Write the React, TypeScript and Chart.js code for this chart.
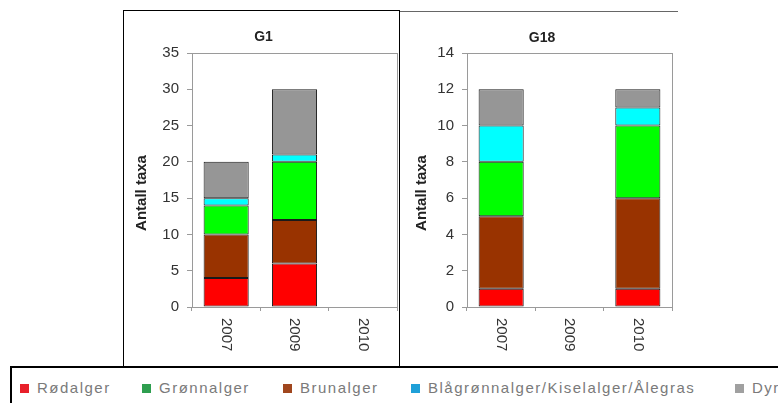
import React, { useEffect, useRef } from "react";
import { Chart, registerables } from "chart.js";

Chart.register(...registerables);

const years = ["2007", "2009", "2010"];

const g1Rodalger = [4, 6, 0];
const g1Brunalger = [6, 6, 0];
const g1Gronnalger = [4, 8, 0];
const g1Blagronn = [1, 1, 0];
const g1Dyr = [5, 9, 0];

const g18Rodalger = [1, 0, 1];
const g18Brunalger = [4, 0, 5];
const g18Gronnalger = [3, 0, 4];
const g18Blagronn = [2, 0, 1];
const g18Dyr = [2, 0, 1];

const seriesNames = ["Rødalger", "Brunalger", "Grønnalger", "Blågrønnalger/Kiselalger/Ålegras", "Dyr"];
const barColors = ["#FF0000", "#993300", "#00FF00", "#00FFFF", "#969696"];

const legendNames = ["Rødalger", "Grønnalger", "Brunalger", "Blågrønnalger/Kiselalger/Ålegras", "Dyr"];
const legendColors = ["#E8202A", "#2E9E4F", "#A0461E", "#1FA0D8", "#A0A0A0"];
const legendX = [20, 142, 283, 411, 735];

const FONT = "'Liberation Sans', Arial, sans-serif";

type PanelProps = {
  title: string;
  series: number[][];
  yMax: number;
  yStep: number;
  left: number;
  top: number;
  width: number;
  height: number;
  padTop: number;
  padRight: number;
  yWidth: number;
  xHeight: number;
  yTitleX: number;
  yTitleY: number;
};

function Panel(p: PanelProps) {
  const ref = useRef<HTMLCanvasElement | null>(null);
  useEffect(() => {
    if (!ref.current) return;
    const deco = {
      id: "deco",
      afterDraw(chart: any) {
        const ctx = chart.ctx;
        const a = chart.chartArea;
        ctx.save();
        ctx.strokeStyle = "#9a9a9a";
        ctx.lineWidth = 1;
        ctx.strokeRect(Math.round(a.left) + 0.5, Math.round(a.top) + 0.5, Math.round(a.right - a.left), Math.round(a.bottom - a.top));
        // title
        ctx.fillStyle = "#222";
        ctx.font = `bold 14px ${FONT}`;
        ctx.textAlign = "center";
        ctx.textBaseline = "middle";
        ctx.fillText(p.title, chart.width / 2 + 2, 27);
        // y title
        ctx.save();
        ctx.font = `bold 15px ${FONT}`;
        ctx.translate(p.yTitleX, p.yTitleY);
        ctx.rotate(-Math.PI / 2);
        ctx.fillText("Antall taxa", 0, 0);
        ctx.restore();
        // x labels rotated clockwise
        const xs = chart.scales.x;
        ctx.font = `15px ${FONT}`;
        ctx.fillStyle = "#333";
        ctx.textAlign = "left";
        ctx.textBaseline = "middle";
        years.forEach((y, i) => {
          const x = xs.getPixelForTick(i);
          ctx.save();
          ctx.translate(x, a.bottom + 11);
          ctx.rotate(Math.PI / 2);
          ctx.fillText(y, 0, 0);
          ctx.restore();
        });
        ctx.restore();
      },
    };
    const chart = new Chart(ref.current, {
      type: "bar",
      data: {
        labels: years,
        datasets: p.series.map((d, i) => ({
          label: seriesNames[i],
          data: d,
          backgroundColor: barColors[i],
          borderColor: "#1a1a1a",
          borderWidth: 1,
          borderSkipped: false,
          barPercentage: 0.66,
          categoryPercentage: 1,
        })),
      },
      options: {
        animation: false,
        responsive: false,
        maintainAspectRatio: false,
        layout: { padding: { top: p.padTop, right: p.padRight, left: 0, bottom: 0 } },
        plugins: { legend: { display: false }, title: { display: false }, tooltip: { enabled: false } },
        scales: {
          x: {
            stacked: true,
            offset: true,
            ticks: { display: false },
            grid: { display: true, drawOnChartArea: false, drawTicks: true, tickLength: 4, color: "#9a9a9a", offset: true },
            border: { display: true, color: "#9a9a9a" },
            afterFit: (s: any) => { s.height = p.xHeight; },
          },
          y: {
            stacked: true,
            min: 0,
            max: p.yMax,
            ticks: { stepSize: p.yStep, padding: 8, color: "#333", font: { family: FONT, size: 15 } },
            grid: { display: true, drawOnChartArea: false, drawTicks: true, tickLength: 5, color: "#9a9a9a" },
            border: { display: true, color: "#9a9a9a" },
            title: { display: false },
            afterFit: (s: any) => { s.width = p.yWidth; },
          },
        },
      },
      plugins: [deco],
    } as any);
    return () => chart.destroy();
  }, []);
  return (
    <canvas
      ref={ref}
      width={p.width}
      height={p.height}
      style={{ position: "absolute", left: p.left, top: p.top, width: p.width, height: p.height }}
    />
  );
}

export default function App() {
  return (
    <div style={{ position: "fixed", left: 0, top: 0, width: 778, height: 403, overflow: "hidden", background: "#fff", fontFamily: FONT }}>
      <Panel
        title="G1"
        series={[g1Rodalger, g1Brunalger, g1Gronnalger, g1Blagronn, g1Dyr]}
        yMax={35}
        yStep={5}
        left={123}
        top={10}
        width={277}
        height={356}
        padTop={43}
        padRight={3}
        yWidth={69}
        xHeight={59}
        yTitleX={19}
        yTitleY={183}
      />
      <Panel
        title="G18"
        series={[g18Rodalger, g18Brunalger, g18Gronnalger, g18Blagronn, g18Dyr]}
        yMax={14}
        yStep={2}
        left={400}
        top={11}
        width={280}
        height={355}
        padTop={42}
        padRight={8}
        yWidth={67}
        xHeight={59}
        yTitleX={22}
        yTitleY={182}
      />
      <div style={{ position: "absolute", left: 123, top: 10, width: 277, height: 360, border: "1px solid #000", boxSizing: "border-box", pointerEvents: "none" }} />
      <div style={{ position: "absolute", left: 400, top: 11, width: 278, height: 1, background: "#666" }} />
      <div style={{ position: "absolute", left: 10, top: 366, width: 800, height: 60, borderTop: "2px solid #000", borderLeft: "2px solid #000", background: "#fff" }} />
      {legendNames.map((n, i) => (
        <React.Fragment key={n}>
          <div style={{ position: "absolute", left: legendX[i], top: 384, width: 9, height: 9, background: legendColors[i] }} />
          <div style={{ position: "absolute", left: legendX[i] + 17, top: 379, fontSize: 15, lineHeight: "18px", letterSpacing: "1.5px", color: "#7a7a7a", whiteSpace: "nowrap" }}>{n}</div>
        </React.Fragment>
      ))}
    </div>
  );
}
